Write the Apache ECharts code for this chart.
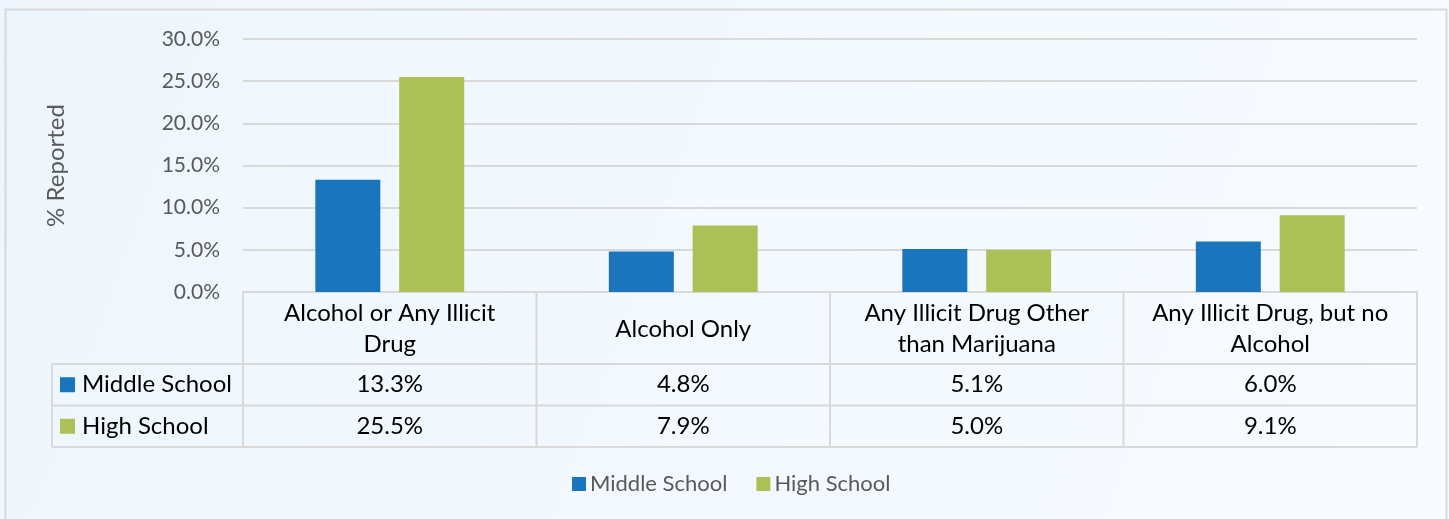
<!DOCTYPE html>
<html>
<head>
<meta charset="utf-8">
<script src="https://cdn.jsdelivr.net/npm/echarts@6/dist/echarts.min.js"></script>
<style>
  html, body { margin: 0; padding: 0; background: #f1f7fd; }
  #chart { width: 1449px; height: 519px; }
</style>
</head>
<body>
<div id="chart"></div>
<script>
// ---- data ----
const categories = ['Alcohol or Any Illicit\nDrug', 'Alcohol Only', 'Any Illicit Drug Other\nthan Marijuana', 'Any Illicit Drug, but no\nAlcohol'];
const seriesNames = ['Middle School', 'High School'];
const middleSchool = [13.3, 4.8, 5.1, 6.0];
const highSchool = [25.5, 7.9, 5.0, 9.1];
const yMin = 0, yMax = 30, yInterval = 5;
const yAxisTitle = '% Reported';

// ---- style ----
const colors = ['#1a75bc', '#adc055'];
const FONT = 'Lato, "Open Sans", sans-serif';
const gridC = { left: 243, right: 32, top: 39, bottom: 227 };
const W = 1449, H = 519;
const lineCol = '#d9d9d9';

const chart = echarts.init(document.getElementById('chart'), null, { renderer: 'canvas' });

const option = {
  animation: false,
  backgroundColor: {
    type: 'linear', x: 0, y: 0, x2: 1, y2: 1,
    colorStops: [{ offset: 0, color: '#eef6fd' }, { offset: 1, color: '#f7fbff' }]
  },
  textStyle: { fontFamily: FONT },
  grid: { left: gridC.left, right: gridC.right, top: gridC.top, bottom: gridC.bottom, containLabel: false },
  legend: {
    data: seriesNames,
    top: 473,
    left: 572,
    icon: 'rect',
    itemWidth: 14,
    itemHeight: 14,
    itemGap: 29,
    padding: 0,
    textStyle: { fontFamily: FONT, fontSize: 22, color: '#595959', padding: [0, 0, 0, -1] }
  },
  xAxis: {
    type: 'category',
    data: categories,
    axisLine: { show: true, lineStyle: { color: lineCol, width: 2 } },
    axisTick: { show: false },
    axisLabel: { show: false },
    splitLine: { show: false }
  },
  yAxis: {
    type: 'value',
    min: yMin, max: yMax, interval: yInterval,
    name: yAxisTitle,
    nameLocation: 'middle',
    nameGap: 175,
    nameRotate: 90,
    nameTextStyle: { fontFamily: FONT, fontSize: 24, color: '#595959' },
    axisLine: { show: false },
    axisTick: { show: false },
    axisLabel: {
      margin: 23,
      fontFamily: FONT, fontSize: 21, color: '#595959',
      formatter: v => v.toFixed(1) + '%'
    },
    splitLine: { lineStyle: { color: lineCol, width: 2 } }
  },
  series: [
    { name: seriesNames[0], type: 'bar', data: middleSchool, barWidth: 65, barGap: '29%', itemStyle: { color: colors[0] } },
    { name: seriesNames[1], type: 'bar', data: highSchool, barWidth: 65, itemStyle: { color: colors[1] } }
  ]
};
chart.setOption(option);

// ---- data table below the plot (positions taken from the chart's own axis) ----
function buildTable() {
  const n = categories.length;
  const plotLeft = gridC.left, plotRight = W - gridC.right;
  const band = (plotRight - plotLeft) / n;
  const top = chart.convertToPixel({ yAxisIndex: 0 }, yMin);
  const headerH = 72, rowH = 41.5;
  const rowTops = [top + headerH, top + headerH + rowH];
  const bottom = top + headerH + 2 * rowH;
  const labelColLeft = 52;
  const els = [];
  const ls = { stroke: lineCol, lineWidth: 2 };
  const TF = 24;

  // outer frame of the chart
  els.push({ type: 'rect', shape: { x: 5.5, y: 9.5, width: 1441, height: 530 }, style: { fill: null, stroke: lineCol, lineWidth: 2 }, silent: true });

  // vertical boundaries
  for (let i = 0; i <= n; i++) {
    const cx = i < n ? chart.convertToPixel({ xAxisIndex: 0 }, i) - band / 2 : chart.convertToPixel({ xAxisIndex: 0 }, n - 1) + band / 2;
    els.push({ type: 'line', shape: { x1: cx, y1: top, x2: cx, y2: bottom }, style: ls, silent: true });
  }
  els.push({ type: 'line', shape: { x1: labelColLeft, y1: rowTops[0], x2: labelColLeft, y2: bottom }, style: ls, silent: true });
  // horizontal lines
  [rowTops[0], rowTops[1], bottom].forEach(y => {
    els.push({ type: 'line', shape: { x1: labelColLeft, y1: y, x2: plotRight, y2: y }, style: ls, silent: true });
  });

  // header texts
  categories.forEach((c, i) => {
    const cx = chart.convertToPixel({ xAxisIndex: 0 }, i);
    els.push({
      type: 'text', x: cx, y: top + headerH / 2 + 1, silent: true,
      style: { text: c, fontFamily: FONT, fontSize: TF, lineHeight: 31, fill: '#000', align: 'center', verticalAlign: 'middle' }
    });
  });

  // rows
  const rows = [middleSchool, highSchool];
  rows.forEach((vals, r) => {
    const cy = rowTops[r] + rowH / 2;
    els.push({ type: 'rect', shape: { x: 60, y: cy - 7.5, width: 15, height: 15 }, style: { fill: colors[r] }, silent: true });
    els.push({
      type: 'text', x: 82, y: cy, silent: true,
      style: { text: seriesNames[r], fontFamily: FONT, fontSize: TF, fill: '#000', align: 'left', verticalAlign: 'middle' }
    });
    vals.forEach((v, i) => {
      const cx = chart.convertToPixel({ xAxisIndex: 0 }, i);
      els.push({
        type: 'text', x: cx, y: cy, silent: true,
        style: { text: v.toFixed(1) + '%', fontFamily: FONT, fontSize: TF, fill: '#000', align: 'center', verticalAlign: 'middle' }
      });
    });
  });
  chart.setOption({ graphic: { elements: els } });
}
buildTable();
</script>
</body>
</html>
